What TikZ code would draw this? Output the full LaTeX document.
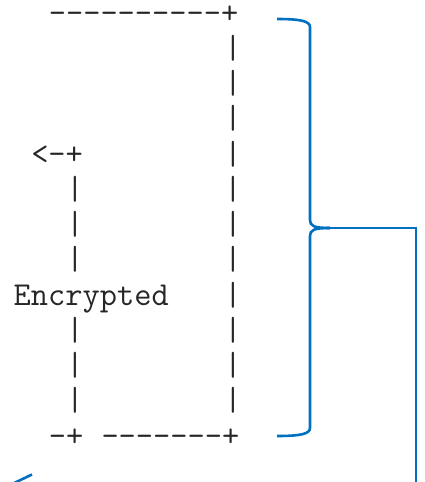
\documentclass[tikz,border=0pt]{standalone}
\usepackage{fontspec}
\setmonofont{Latin Modern Mono}
\usepackage{tikz}

\definecolor{braceblue}{RGB}{0,112,192}
\tikzset{ascii/.style={font=\ttfamily\fontsize{33.45pt}{35pt}\selectfont, text=black!85, inner sep=0pt, anchor=base west},
    blueline/.style={draw=braceblue, line width=2.6pt}}

\begin{document}
\begin{tikzpicture}[x=1pt,y=-1pt]
    \clip (0,0) rectangle (424,482);
    % ascii frame
    \node[ascii] (top) at (48.62,23) {----------+};
    \foreach \r in {1,...,11}
        \node[ascii] (right\r) at (224.2,{23+35.25*\r}) {|};
    \node[ascii] (back) at (31.06,164) {<-+};
    \foreach \r in {5,6,7,9,10,11}
        \node[ascii] (left\r) at (66.18,{23+35.25*\r}) {|};
    \node[ascii] (enc) at (13.5,305) {Encrypted};
    \node[ascii] (botl) at (48.62,446) {-+};
    \node[ascii] (botr) at (101.3,446) {-------+};
    % brace and connector
    \coordinate (tip) at (330,228);
    \coordinate (down) at (416,490);
    \draw[blueline] (277,19) .. controls (300,19) and (310,21) .. (310,27) -- (310,220)
        .. controls (310,226) and (314,228) .. (tip);
    \draw[blueline] (277,436) .. controls (300,436) and (310,434) .. (310,428) -- (310,236)
        .. controls (310,230) and (314,228) .. (tip);
    \draw[blueline] (tip) -| (down);
    \coordinate (a) at (10,485);
    \coordinate (b) at (32,474.5);
    \draw[blueline] (a) -- (b);
\end{tikzpicture}
\end{document}
